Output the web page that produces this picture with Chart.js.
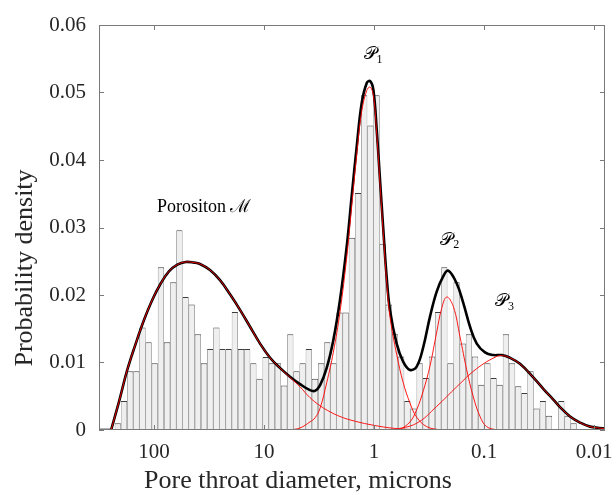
<!DOCTYPE html>
<html>
<head>
<meta charset="utf-8">
<script src="https://cdn.jsdelivr.net/npm/chart.js@4.4.0/dist/chart.umd.min.js"></script>
<style>
  html, body { margin: 0; padding: 0; background: #fff; }
</style>
</head>
<body>
<canvas id="chart_1" width="616" height="495"></canvas>
<script>
// histogram bins, log10 of diameter (microns), largest diameter first
const binStart = 2.357;
const binWidth = 0.0560;
const density = [
  0.0010, 0.0043, 0.0087, 0.0087, 0.0152, 0.0130, 0.0099, 0.0241, 0.0130, 0.0219,
  0.0296, 0.0197, 0.0186, 0.0142, 0.0099, 0.0120, 0.0152, 0.0120, 0.0120, 0.0175,
  0.0120, 0.0120, 0.0099, 0.0076, 0.0108, 0.0099, 0.0099, 0.0066, 0.0142, 0.0087,
  0.0099, 0.0120, 0.0076, 0.0099, 0.0130, 0.0099, 0.0174, 0.0174, 0.0285, 0.0351,
  0.0496, 0.0451, 0.0496, 0.0276, 0.0186, 0.0142, 0.0109, 0.0043, 0.0032, 0.0099,
  0.0077, 0.0109, 0.0175, 0.0241, 0.0099, 0.0219, 0.0128, 0.0142, 0.0109, 0.0067,
  0.0099, 0.0077, 0.0067, 0.0142, 0.0099, 0.0065, 0.0055, 0.0087, 0.0032, 0.0043,
  0.0021, 0.0000, 0.0043, 0.0021, 0.0010, 0.0000, 0.0000, 0.0000, 0.0004
];

// fitted curves as [log10 diameter, density]
const fitFlat = [[2.50, 0], [2.39, 0]];
const fitTotal = [
  [2.39, 0], [2.318, 0.0042], [2.243, 0.0089], [2.166, 0.0128], [2.091, 0.0163],
  [2.015, 0.0193], [1.939, 0.0217], [1.864, 0.0235], [1.788, 0.0245], [1.712, 0.0249],
  [1.636, 0.0248], [1.582, 0.0246], [1.491, 0.0237], [1.40, 0.0222], [1.309, 0.0201],
  [1.218, 0.0178], [1.127, 0.0153], [1.036, 0.0128], [0.945, 0.0107], [0.855, 0.0092],
  [0.764, 0.0079], [0.673, 0.0068], [0.582, 0.0059], [0.536, 0.0058], [0.491, 0.0066],
  [0.430, 0.0092], [0.370, 0.0133], [0.309, 0.0193], [0.248, 0.0272], [0.203, 0.0346],
  [0.157, 0.0420], [0.112, 0.0484], [0.066, 0.0514], [0.036, 0.0517], [0.006, 0.0504],
  [-0.025, 0.0444], [-0.055, 0.0370], [-0.085, 0.0296], [-0.115, 0.0227], [-0.145, 0.0178],
  [-0.206, 0.0128], [-0.266, 0.0101], [-0.327, 0.0089], [-0.388, 0.0094], [-0.448, 0.0123],
  [-0.509, 0.0168], [-0.570, 0.0205], [-0.630, 0.0228], [-0.675, 0.0236], [-0.752, 0.0217],
  [-0.812, 0.0188], [-0.873, 0.0153], [-0.934, 0.0128], [-1.009, 0.0115], [-1.085, 0.0111],
  [-1.161, 0.0111], [-1.236, 0.0107], [-1.327, 0.0098], [-1.448, 0.0078], [-1.539, 0.0061],
  [-1.630, 0.0045], [-1.691, 0.0034], [-1.782, 0.0020], [-1.873, 0.0011], [-1.964, 0.0005],
  [-2.10, 0.0002]
];
const fitM = [
  [2.39, 0], [2.318, 0.0042], [2.243, 0.0089], [2.166, 0.0128], [2.091, 0.0163],
  [2.015, 0.0193], [1.939, 0.0217], [1.864, 0.0235], [1.788, 0.0245], [1.712, 0.0249],
  [1.636, 0.0248], [1.582, 0.0246], [1.491, 0.0237], [1.40, 0.0222], [1.309, 0.0201],
  [1.218, 0.0178], [1.127, 0.0153], [1.036, 0.0128], [0.945, 0.0107], [0.855, 0.0092],
  [0.764, 0.0078], [0.673, 0.0064], [0.582, 0.0048], [0.491, 0.0036], [0.400, 0.0027],
  [0.309, 0.0020], [0.218, 0.0015], [0.036, 0.0008], [-0.21, 0.0002], [-0.51, 0]
];
const fitP1 = [
  [0.764, 0], [0.673, 0.0003], [0.582, 0.0012], [0.536, 0.0018], [0.491, 0.0032],
  [0.430, 0.0070], [0.370, 0.0115], [0.309, 0.0175], [0.248, 0.0256], [0.203, 0.0331],
  [0.157, 0.0408], [0.112, 0.0472], [0.066, 0.0503], [0.036, 0.0508], [0.006, 0.0496],
  [-0.025, 0.0438], [-0.055, 0.0364], [-0.085, 0.0290], [-0.115, 0.0220], [-0.145, 0.0168],
  [-0.206, 0.0112], [-0.266, 0.0070], [-0.327, 0.0040], [-0.388, 0.0019], [-0.479, 0.0005],
  [-0.60, 0]
];
const fitP2 = [
  [-0.236, 0], [-0.327, 0.0012], [-0.388, 0.0030], [-0.448, 0.0058], [-0.509, 0.0095],
  [-0.570, 0.0145], [-0.615, 0.0180], [-0.661, 0.0197], [-0.721, 0.0183], [-0.782, 0.0138],
  [-0.843, 0.0089], [-0.903, 0.0049], [-0.964, 0.0020], [-1.024, 0.0005], [-1.115, 0]
];
const fitP3 = [
  [-0.173, 0], [-0.388, 0.0010], [-0.570, 0.0035], [-0.752, 0.0064], [-0.934, 0.0091],
  [-1.115, 0.0109], [-1.176, 0.0110], [-1.236, 0.0107], [-1.327, 0.0098], [-1.448, 0.0078],
  [-1.539, 0.0061], [-1.630, 0.0045], [-1.691, 0.0034], [-1.782, 0.0020], [-1.873, 0.0011],
  [-1.964, 0.0005], [-2.10, 0.0002]
];

const xTicks = [100, 10, 1, 0.1, 0.01];
const xTickLabels = ["100", "10", "1", "0.1", "0.01"];
const yTicks = [0, 0.01, 0.02, 0.03, 0.04, 0.05, 0.06];
const yTickLabels = ["0", "0.01", "0.02", "0.03", "0.04", "0.05", "0.06"];

const xTitle = "Pore throat diameter, microns";
const yTitle = "Probability density";

// peak labels: [text, subscript, diameter, density]
const peakLabels = [
  ["Porositon \u2133", "", 35, 0.033],
  ["\uD835\uDCAB", "1", 1.02, 0.0556],
  ["\uD835\uDCAB", "2", 0.205, 0.0281],
  ["\uD835\uDCAB", "3", 0.065, 0.019]
];

const SERIF = "'Liberation Serif', 'DejaVu Serif', serif";
const INK = "#262626";

const toPoints = (arr) => arr.map(p => ({ x: Math.pow(10, p[0]), y: p[1] }));

const bars = density.map((v, i) => ({
  x: Math.pow(10, binStart - (i + 0.5) * binWidth),
  y: v
}));

function curve(data, color, width, order) {
  return {
    type: "line",
    data: toPoints(data),
    borderColor: color,
    borderWidth: width,
    pointRadius: 0,
    fill: false,
    tension: 0.4,
    order: order
  };
}

const frame = {
  id: "frame",
  afterDatasetsDraw(chart) {
    const { ctx, chartArea: a, scales: { x, y } } = chart;
    ctx.save();
    ctx.strokeStyle = "#7a7a7a";
    ctx.lineWidth = 1;
    ctx.strokeRect(a.left + 0.5, a.top + 0.5, a.right - a.left - 1, a.bottom - a.top - 1);
    ctx.beginPath();
    xTicks.forEach(v => {
      const px = Math.round(x.getPixelForValue(v)) + 0.5;
      ctx.moveTo(px, a.bottom); ctx.lineTo(px, a.bottom - 5);
      ctx.moveTo(px, a.top); ctx.lineTo(px, a.top + 5);
    });
    yTicks.forEach(v => {
      const py = Math.round(y.getPixelForValue(v)) + 0.5;
      ctx.moveTo(a.left, py); ctx.lineTo(a.left + 5, py);
      ctx.moveTo(a.right, py); ctx.lineTo(a.right - 5, py);
    });
    ctx.stroke();

    // peak labels
    ctx.fillStyle = "#000";
    ctx.textBaseline = "middle";
    peakLabels.forEach(([txt, sub, d, v]) => {
      ctx.font = "18px " + SERIF;
      const w = ctx.measureText(txt).width;
      ctx.font = "12px " + SERIF;
      const ws = sub ? ctx.measureText(sub).width : 0;
      const cx = x.getPixelForValue(d);
      const cy = y.getPixelForValue(v);
      const left = cx - (w + ws) / 2;
      ctx.textAlign = "left";
      ctx.font = "18px " + SERIF;
      ctx.fillText(txt, left, cy);
      if (sub) {
        ctx.font = "12px " + SERIF;
        ctx.fillText(sub, left + w, cy + 5);
      }
    });

    // axis titles (sit off-centre in the original)
    ctx.fillStyle = INK;
    ctx.font = "26px " + SERIF;
    ctx.textAlign = "center";
    ctx.fillText(xTitle, 298, 481);
    ctx.translate(25, 268);
    ctx.rotate(-Math.PI / 2);
    ctx.fillText(yTitle, 0, 0);
    ctx.restore();
  }
};

new Chart(document.getElementById("chart_1"), {
  type: "bar",
  data: {
    datasets: [
      curve(fitM, "#ff0000", 0.9, 0),
      curve(fitP1, "#ff0000", 0.9, 0),
      curve(fitP2, "#ff0000", 0.9, 0),
      curve(fitP3, "#ff0000", 0.9, 0),
      curve(fitFlat, "#000000", 2.6, 1),
      curve(fitTotal, "#000000", 2.6, 1),
      {
        type: "bar",
        data: bars,
        backgroundColor: "#efefef",
        borderColor: "#3d3d3d",
        borderWidth: { left: 0.6, right: 0.6, top: 1, bottom: 0 },
        borderSkipped: false,
        inflateAmount: 0,
        barPercentage: 1,
        categoryPercentage: 1,
        order: 2
      }
    ]
  },
  options: {
    responsive: false,
    animation: false,
    layout: { padding: { top: 25, right: 11, left: 0, bottom: 0 } },
    plugins: {
      legend: { display: false },
      tooltip: { enabled: false }
    },
    scales: {
      x: {
        type: "logarithmic",
        reverse: true,
        offset: false,
        min: Math.pow(10, -2.1),
        max: Math.pow(10, 2.5),
        grid: { display: false },
        border: { display: false },
        afterBuildTicks: (s) => { s.ticks = xTicks.map(v => ({ value: v })); },
        afterFit: (s) => { s.height = 65; },
        ticks: {
          autoSkip: false,
          maxRotation: 0,
          padding: 2,
          color: INK,
          font: { family: SERIF, size: 21 },
          callback: (v) => xTickLabels[xTicks.indexOf(v)]
        }
      },
      y: {
        min: 0,
        max: 0.06,
        grid: { display: false },
        border: { display: false },
        afterBuildTicks: (s) => { s.ticks = yTicks.map(v => ({ value: v })); },
        afterFit: (s) => { s.width = 99; },
        ticks: {
          padding: 5,
          color: INK,
          font: { family: SERIF, size: 21 },
          callback: (v) => yTickLabels[yTicks.indexOf(v)]
        }
      }
    }
  },
  plugins: [frame]
});
</script>
</body>
</html>
